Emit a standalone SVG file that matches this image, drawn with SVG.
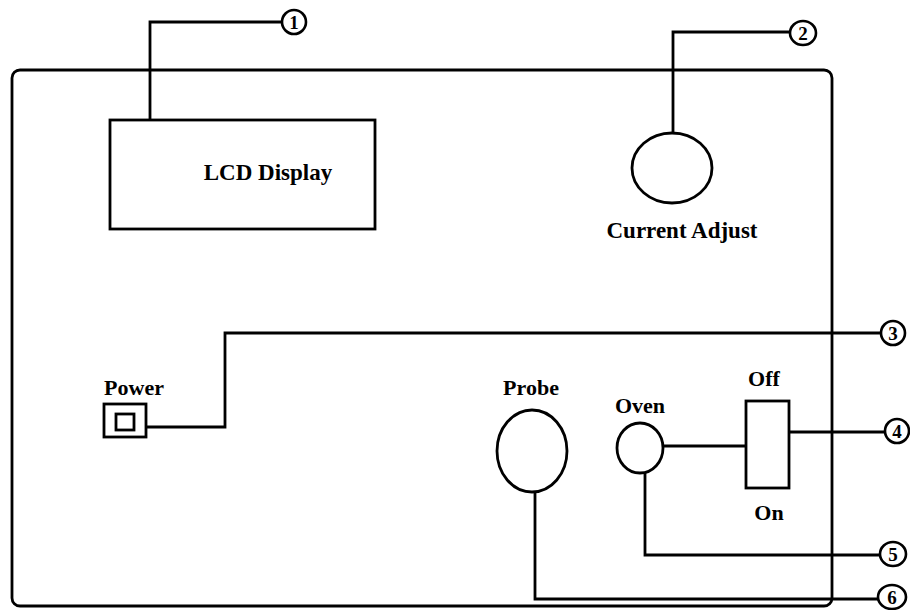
<svg xmlns="http://www.w3.org/2000/svg" width="910" height="610" viewBox="0 0 910 610">
<style>
.s{fill:none;stroke:#000;stroke-width:2.8}
.c{fill:#fff;stroke:#000;stroke-width:2.6}
.t{font-family:"Liberation Serif","Times New Roman",serif;font-weight:bold;fill:#000}
.n{font-family:"Liberation Serif","Times New Roman",serif;font-weight:bold;font-size:19px;fill:#000;text-anchor:middle}
</style>
<rect width="910" height="610" fill="#fff"/>
<g id="panel"><rect class="s" x="12" y="70" width="820" height="536" rx="8"/></g>
<g id="connectors">
<polyline class="s" points="150,120 150,22 281,22"/>
<polyline class="s" points="673,133 673,32 790,32"/>
<polyline class="s" points="146,427 225,427 225,333 881,333"/>
<polyline class="s" points="663,446 746,446"/>
<polyline class="s" points="789,432 884,432"/>
<polyline class="s" points="645,473 645,555 880,555"/>
<polyline class="s" points="535,492 535,599 878,599"/>
</g>
<g id="lcd"><rect class="s" x="110" y="120" width="265" height="109"/><text class="t" x="268" y="180" font-size="23" text-anchor="middle">LCD Display</text></g>
<g id="current"><ellipse class="s" cx="672" cy="168" rx="40" ry="35"/><text class="t" x="682" y="238" font-size="23" text-anchor="middle">Current Adjust</text></g>
<g id="power"><text class="t" x="134" y="395" font-size="22" text-anchor="middle">Power</text><rect class="s" x="104" y="404" width="42" height="33"/><rect class="s" x="116" y="414" width="18" height="16"/></g>
<g id="probe"><text class="t" x="531" y="395" font-size="22" text-anchor="middle">Probe</text><ellipse class="s" cx="532" cy="451" rx="35" ry="41"/></g>
<g id="oven"><text class="t" x="640" y="413" font-size="22" text-anchor="middle">Oven</text><ellipse class="s" cx="640" cy="448" rx="23" ry="25"/></g>
<g id="switch"><text class="t" x="764" y="386" font-size="22" font-weight="normal" text-anchor="middle">Off</text><rect class="s" x="746" y="401" width="43" height="87"/><text class="t" x="769" y="520" font-size="22" text-anchor="middle">On</text></g>
<g id="m1"><ellipse class="c" cx="294" cy="22" rx="12" ry="12"/><text class="n" x="294" y="29">1</text></g>
<g id="m2"><ellipse class="c" cx="803" cy="33" rx="13" ry="12"/><text class="n" x="803" y="40">2</text></g>
<g id="m3"><ellipse class="c" cx="893" cy="333" rx="12" ry="12"/><text class="n" x="893" y="340">3</text></g>
<g id="m4"><ellipse class="c" cx="897" cy="431" rx="12" ry="12"/><text class="n" x="897" y="438">4</text></g>
<g id="m5"><ellipse class="c" cx="893" cy="554" rx="13" ry="12"/><text class="n" x="893" y="561">5</text></g>
<g id="m6"><ellipse class="c" cx="892" cy="597" rx="14" ry="12"/><text class="n" x="892" y="604">6</text></g>
</svg>
